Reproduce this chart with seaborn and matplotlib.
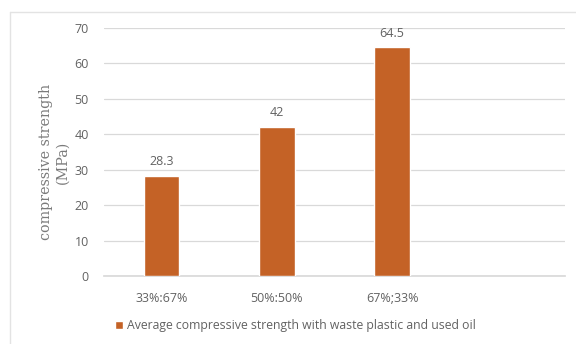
import matplotlib
matplotlib.use("Agg")
import matplotlib.pyplot as plt
import matplotlib.lines as mlines
import seaborn as sns
import pandas as pd

# Mix ratios (plastic : oil) and their average compressive strength (MPa)
ratios = ["33%:67%", "50%:50%", "67%;33%", ""]
strength = [28.3, 42.0, 64.5, None]
series_name = "Average compressive strength with waste plastic and used oil"
yticks = [0, 10, 20, 30, 40, 50, 60, 70]

df = pd.DataFrame({"ratio": ratios, "strength": strength})

sns.set_theme(style="white")
plt.rcParams["font.family"] = ["Open Sans", "DejaVu Sans"]

bar_color = "#C46226"
text_color = "#626262"
grid_color = "#D9D9D9"

fig = plt.figure(figsize=(5.76, 3.44), dpi=100)
ax = fig.add_axes([104 / 576, 1 - 276 / 344, (565 - 104) / 576, (276 - 28) / 344])

sns.barplot(data=df, x="ratio", y="strength", color=bar_color, width=0.31,
            saturation=1, ax=ax, label=series_name, zorder=3)

ax.set_ylim(0, 70)
ax.set_xlim(-0.5, 3.5)
ax.set_yticks(yticks)
ax.set_yticklabels([str(v) for v in yticks], fontsize=9, color=text_color)
ax.tick_params(axis="x", labelsize=9, colors=text_color, length=0, pad=11.5)
ax.tick_params(axis="y", length=0, pad=11)
ax.yaxis.grid(True, color=grid_color, linewidth=0.9, zorder=0)
for s in ["top", "right", "left"]:
    ax.spines[s].set_visible(False)
ax.spines["bottom"].set_color(grid_color)
ax.spines["bottom"].set_zorder(1)
ax.set_xlabel("")
ax.set_ylabel("compressive strength\n(MPa)", family="DejaVu Serif",
              fontsize=10.3, color="#7A7A7A", linespacing=1.25)
ax.yaxis.set_label_coords(-0.1085, 0.46)
ax.yaxis.label.set_verticalalignment("center")

# value labels above each bar
for i, v in enumerate(strength):
    if v is not None:
        ax.text(i, v + 2.2, f"{v:g}", ha="center", va="bottom",
                fontsize=9, color=text_color)

leg = ax.legend(loc="center left", bbox_to_anchor=(115 / 576, 1 - 326 / 344),
                bbox_transform=fig.transFigure, frameon=False, fontsize=8.8,
                handlelength=0.65, handleheight=0.65, handletextpad=0.3,
                borderpad=0, borderaxespad=0, labelcolor=text_color)

# chart frame edges
fig.add_artist(mlines.Line2D([10 / 576, 10 / 576], [0, 1 - 12 / 344],
                             transform=fig.transFigure, color="#E3E3E3", lw=1))
fig.add_artist(mlines.Line2D([10 / 576, 1], [1 - 12 / 344, 1 - 12 / 344],
                             transform=fig.transFigure, color="#E3E3E3", lw=1))

fig.savefig("out.png", dpi=100)
